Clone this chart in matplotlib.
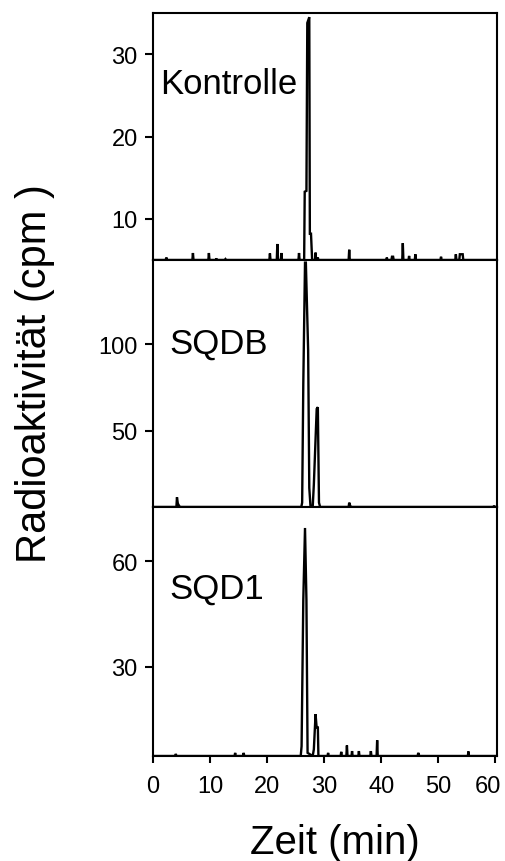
import numpy as np
import matplotlib
matplotlib.use('Agg')
import matplotlib.pyplot as plt
from matplotlib.transforms import ScaledTranslation

plt.rcParams['font.family'] = ['Liberation Sans', 'DejaVu Sans']

# Zeitachse (min) und Radioaktivität (cpm) der drei Läufe
t_kontrolle = [0, 2.2, 2.35, 2.5, 6.9, 7.0, 7.1, 9.7, 9.8, 9.9, 11.0, 11.1, 11.2,
               12.6, 12.7, 12.8, 20.4, 20.5, 20.6, 21.7, 21.8, 21.9, 22.4, 22.5, 22.6,
               25.5, 25.6, 25.7, 26.5, 26.6, 26.9, 27.05, 27.4, 27.5, 27.7, 27.9,
               28.4, 28.5, 28.6, 28.8, 28.9, 29.0, 34.3, 34.4, 34.5, 40.9, 41.0, 41.1,
               41.8, 41.9, 42.1, 42.2, 43.7, 43.8, 43.9, 44.8, 44.9, 45.0, 45.9, 46.0,
               46.1, 50.4, 50.5, 50.6, 53.0, 53.1, 53.2, 53.7, 53.8, 54.3, 54.4, 60.3]
cpm_kontrolle = [5.0, 5.0, 5.3, 5.0, 5.0, 5.85, 5.0, 5.0, 5.85, 5.0, 5.0, 5.2, 5.0,
                 5.0, 5.1, 5.0, 5.0, 5.8, 5.0, 5.0, 6.95, 5.0, 5.0, 5.85, 5.0,
                 5.0, 5.85, 5.0, 5.0, 13.3, 13.4, 33.8, 34.5, 8.2, 8.2, 5.0,
                 5.0, 5.9, 5.0, 5.0, 5.3, 5.0, 5.0, 6.25, 5.0, 5.0, 5.3, 5.0,
                 5.0, 5.4, 5.4, 5.0, 5.0, 7.05, 5.0, 5.0, 5.5, 5.0, 5.0, 5.7,
                 5.0, 5.0, 5.4, 5.0, 5.0, 5.7, 5.0, 5.0, 5.7, 5.7, 5.0, 5.0]

t_sqdb = [0, 4.1, 4.2, 4.35, 4.6, 4.8, 26.0, 26.15, 26.35, 26.65, 26.8, 27.2, 27.4,
          27.6, 28.0, 28.2, 28.7, 28.9, 29.1, 29.3, 34.3, 34.4, 34.6, 34.8, 59.7,
          59.8, 59.9, 60.3]
cpm_sqdb = [6.0, 6.0, 11.6, 8.0, 6.5, 6.0, 6.0, 8.5, 77.0, 147.0, 147.0, 96.5, 17.0,
            7.0, 6.0, 19.0, 62.6, 63.6, 8.5, 6.0, 6.0, 8.5, 6.5, 6.0, 6.0,
            6.8, 6.0, 6.0]

t_sqd1 = [0, 3.9, 4.0, 4.1, 14.3, 14.4, 14.5, 15.8, 15.9, 16.0, 25.9, 26.05, 26.35,
          26.65, 26.9, 27.1, 28.0, 28.2, 28.5, 28.7, 28.9, 29.0, 30.6, 30.7, 30.8,
          32.9, 33.0, 33.1, 33.9, 34.0, 34.1, 34.8, 34.9, 35.0, 36.0, 36.1, 36.2,
          38.1, 38.2, 38.3, 39.2, 39.3, 39.4, 46.4, 46.5, 46.7, 55.2, 55.3, 55.4, 60.3]
cpm_sqd1 = [4.6, 4.6, 5.2, 4.6, 4.6, 5.5, 4.6, 4.6, 5.5, 4.6, 4.6, 7.4, 49.0,
            69.5, 49.0, 5.5, 4.6, 6.5, 16.5, 12.5, 13.0, 4.6, 4.6, 5.5, 4.6,
            4.6, 5.8, 4.6, 4.6, 7.6, 4.6, 4.6, 6.0, 4.6, 4.6, 6.0, 4.6,
            4.6, 6.0, 4.6, 4.6, 9.1, 4.6, 4.6, 5.5, 4.6, 4.6, 5.9, 4.6, 4.6]

labels = ['Kontrolle', 'SQDB', 'SQD1']
yticks = [[10, 20, 30], [50, 100], [30, 60]]
ylims = [(5, 35), (6, 148.5), (4.6, 75.5)]
xticks = [0, 10, 20, 30, 40, 50, 60]

fig = plt.figure(figsize=(5.05, 8.62), dpi=100)

left, width = 0.303, 0.681
boxes = [(0.6972, 0.2865), (0.4107, 0.2865), (0.1218, 0.289)]
label_pos = [(0.022, 0.714), (0.049, 0.664), (0.049, 0.675)]
data = [(t_kontrolle, cpm_kontrolle), (t_sqdb, cpm_sqdb), (t_sqd1, cpm_sqd1)]

for i in range(3):
    ax = fig.add_axes([left, boxes[i][0], width, boxes[i][1]])
    t, c = data[i]
    ax.plot(t, c, color='black', lw=1.7, solid_joinstyle='miter')
    ax.set_xlim(0, 60.3)
    ax.set_ylim(*ylims[i])
    ax.set_yticks(yticks[i])
    for s in ax.spines.values():
        s.set_linewidth(1.5)
    ax.tick_params(axis='y', direction='out', length=6, width=1.5,
                   labelsize=17, pad=5)
    if i < 2:
        ax.set_xticks([])
    else:
        ax.set_xticks(xticks)
        ax.tick_params(axis='x', direction='out', length=5, width=1.5,
                       labelsize=17, pad=9)
        # letzte Beschriftung etwas nach links, damit sie im Bild bleibt
        last = ax.get_xticklabels()[-1]
        last.set_transform(last.get_transform() +
                           ScaledTranslation(-5 / 72, 0, fig.dpi_scale_trans))
    ax.text(label_pos[i][0], label_pos[i][1], labels[i], transform=ax.transAxes,
            fontsize=25, ha='left', va='center')

fig.text(0.069, 0.567, 'Radioaktivität (cpm )', rotation=90, fontsize=30,
         ha='center', va='center')
fig.text(0.663, 0.022, 'Zeit (min)', fontsize=29, ha='center', va='center')

fig.savefig('out.png', dpi=100)
